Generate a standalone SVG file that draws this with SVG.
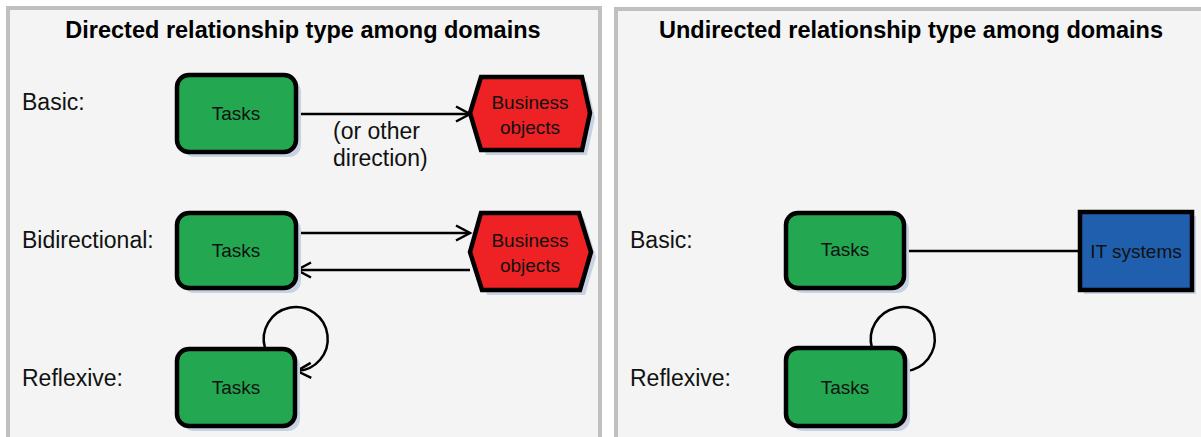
<svg xmlns="http://www.w3.org/2000/svg" width="1201" height="437" viewBox="0 0 1201 437">
<defs>
<style>
.panel{fill:#f3f4f3;stroke:#c0c0c0;stroke-width:4}
.title{font-family:"Liberation Sans",Arial,sans-serif;font-weight:bold;font-size:23.5px;fill:#000;text-anchor:middle}
.lbl{font-family:"Liberation Sans",Arial,sans-serif;font-size:23px;fill:#111}
.ntxt{font-family:"Liberation Sans",Arial,sans-serif;font-size:19px;fill:#111;text-anchor:middle}
.task{fill:#23a851;stroke:#000;stroke-width:4.5}
.bo{fill:#ee2225;stroke:#000;stroke-width:4.5;stroke-linejoin:miter}
.it{fill:#1f5fad;stroke:#000;stroke-width:4.5}
.sh{fill:#c9d2e3}
.conn{fill:none;stroke:#000;stroke-width:2.5}
</style>
<marker id="arr" markerUnits="userSpaceOnUse" markerWidth="18" markerHeight="18" refX="15" refY="9" orient="auto">
<path d="M1,1.5 L15,9 L1,16.5" fill="none" stroke="#000" stroke-width="2.5"/>
</marker>
</defs>
<rect x="0" y="0" width="1201" height="437" fill="#ffffff"/>
<g id="panel-directed">
<rect class="panel" x="8" y="8" width="592" height="460"/>
<text class="title" x="303" y="38">Directed relationship type among domains</text>
<text class="lbl" x="22" y="110">Basic:</text>
<text class="lbl" x="22" y="248">Bidirectional:</text>
<text class="lbl" x="22" y="386">Reflexive:</text>
<text class="lbl" x="333" y="139">(or other</text>
<text class="lbl" x="333" y="166">direction)</text>
</g>
<g id="panel-undirected">
<rect class="panel" x="616" y="9" width="620" height="460"/>
<text class="title" x="911" y="38">Undirected relationship type among domains</text>
<text class="lbl" x="630" y="248">Basic:</text>
<text class="lbl" x="630" y="386">Reflexive:</text>
</g>
<g id="connectors">
<line class="conn" x1="297" y1="114" x2="470" y2="114" marker-end="url(#arr)"/>
<line class="conn" x1="297" y1="233" x2="470" y2="233" marker-end="url(#arr)"/>
<line class="conn" x1="470" y1="270" x2="297" y2="270" marker-end="url(#arr)"/>
<path class="conn" d="M265,348 A32,32 0 1 1 297,371" marker-end="url(#arr)"/>
<line class="conn" x1="905" y1="251" x2="1078" y2="251"/>
<path class="conn" d="M872,348 A32,32 0 1 1 906,371"/>
</g>
<g id="tasks-basic">
<rect class="sh" x="182" y="80" width="119" height="77" rx="12"/>
<rect class="task" x="177" y="75" width="119" height="77" rx="12"/>
<text class="ntxt" x="236" y="120">Tasks</text>
</g>
<g id="bo-basic">
<polygon class="sh" points="475,118 486,82 587,82 595,118 587,155 486,155"/>
<polygon class="bo" points="470,113 481,77 582,77 590,113 582,150 481,150"/>
<text class="ntxt" x="530" y="109">Business</text>
<text class="ntxt" x="530" y="134">objects</text>
</g>
<g id="tasks-bidirectional">
<rect class="sh" x="182" y="218" width="119" height="75" rx="12"/>
<rect class="task" x="177" y="213" width="119" height="75" rx="12"/>
<text class="ntxt" x="236" y="257">Tasks</text>
</g>
<g id="bo-bidirectional">
<polygon class="sh" points="475,257 486,218 584,218 596,257 585,295 487,295"/>
<polygon class="bo" points="470,252 481,213 579,213 591,252 580,290 482,290"/>
<text class="ntxt" x="530" y="247">Business</text>
<text class="ntxt" x="530" y="272">objects</text>
</g>
<g id="tasks-reflexive">
<rect class="sh" x="182" y="354" width="118" height="77" rx="12"/>
<rect class="task" x="177" y="349" width="118" height="77" rx="12"/>
<text class="ntxt" x="236" y="394">Tasks</text>
</g>
<g id="tasks-undirected-basic">
<rect class="sh" x="791" y="218" width="118" height="75" rx="12"/>
<rect class="task" x="786" y="213" width="118" height="75" rx="12"/>
<text class="ntxt" x="845" y="256">Tasks</text>
</g>
<g id="it-systems">
<rect class="sh" x="1084" y="216" width="112" height="78"/>
<rect class="it" x="1080" y="212" width="112" height="78"/>
<text class="ntxt" x="1136" y="258">IT systems</text>
</g>
<g id="tasks-undirected-reflexive">
<rect class="sh" x="791" y="353" width="119" height="78" rx="12"/>
<rect class="task" x="786" y="348" width="119" height="78" rx="12"/>
<text class="ntxt" x="845" y="394">Tasks</text>
</g>
</svg>
